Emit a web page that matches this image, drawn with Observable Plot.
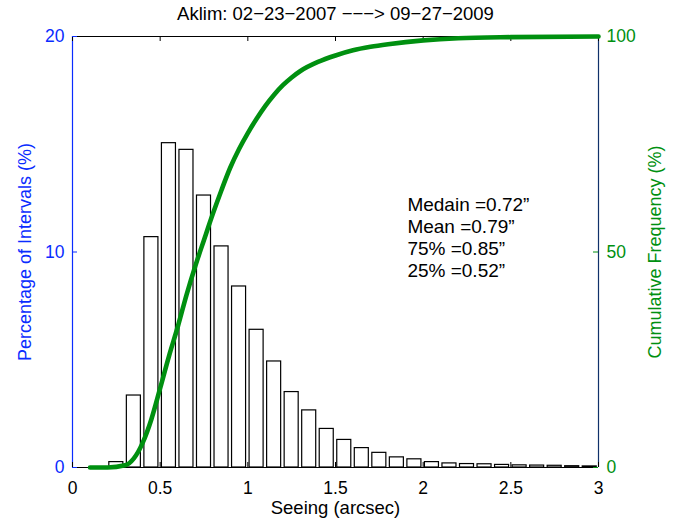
<!DOCTYPE html>
<html>
<head>
<meta charset="utf-8">
<script src="https://cdn.jsdelivr.net/npm/d3@7"></script>
<script src="https://cdn.jsdelivr.net/npm/@observablehq/plot@0.6"></script>
<style>
  html, body { margin: 0; padding: 0; background: white; }
  #chart { position: relative; width: 686px; height: 520px; }
  #chart svg { position: absolute; left: 0; top: 0; }
</style>
</head>
<body>
<div id="chart"></div>
<script>
// ---- data ----
const title = "Aklim: 02\u221223\u22122007 \u2212\u2212\u2212> 09\u221227\u22122009";
const binCenters = [0.25,0.35,0.45,0.55,0.65,0.75,0.85,0.95,1.05,1.15,1.25,1.35,1.45,1.55,1.65,1.75,1.85,1.95,2.05,2.15,2.25,2.35,2.45,2.55,2.65,2.75,2.85,2.95];
const percentOfIntervals = [0.25,3.34,10.69,15.05,14.74,12.62,10.26,8.40,6.39,4.92,3.50,2.65,1.79,1.28,0.90,0.68,0.47,0.38,0.25,0.19,0.16,0.15,0.12,0.10,0.09,0.08,0.06,0.05];
const cumX = [0.1,0.2,0.3,0.35,0.4,0.45,0.5,0.55,0.6,0.65,0.7,0.75,0.8,0.85,0.9,0.95,1.0,1.05,1.1,1.15,1.2,1.25,1.3,1.4,1.5,1.6,1.7,1.8,2.0,2.2,2.5,3.0];
const cumFreq = [0,0,0.5,2.1,5.7,11.2,18.4,25.8,32.6,40.0,46.7,52.8,58.8,64.4,69.6,73.9,77.6,80.9,83.9,86.5,88.7,90.5,92.0,94.1,95.6,96.8,97.6,98.2,99.1,99.6,99.85,100];
const xTicks = [0,0.5,1,1.5,2,2.5,3];
const leftTicks = [0,10,20];
const rightTicks = [0,50,100];
const statLines = ["Medain =0.72\u201D", "Mean =0.79\u201D", "75% =0.85\u201D", "25% =0.52\u201D"];
const xLabel = "Seeing (arcsec)";
const leftLabel = "Percentage of Intervals (%)";
const rightLabel = "Cumulative Frequency (%)";

// ---- layout ----
const W = 686, H = 520;
const mt = 36, mb = 53, ml = 72, mr = 88;
const plotW = W - ml - mr, plotH = H - mt - mb;
const blue = "#0a2cff";
const green = "#009010";
const font = "'Liberation Sans', Arial, Helvetica, sans-serif";
const barWidth = 0.08;

const bars = binCenters.map((c, i) => ({x1: c - barWidth / 2, x2: c + barWidth / 2, y: percentOfIntervals[i]}));
const cum = cumX.map((x, i) => ({x, y: cumFreq[i]}));

const common = {
  width: W, height: H,
  marginTop: mt, marginBottom: mb, marginLeft: ml, marginRight: mr,
  style: {fontFamily: font, fontSize: "17px", background: "transparent", overflow: "visible"}
};

const p1 = Plot.plot({
  ...common,
  x: {domain: [0, 3], axis: null},
  y: {domain: [0, 20], axis: null},
  marks: [
    Plot.rectY(bars, {x1: "x1", x2: "x2", y: "y", fill: "white", stroke: "black", strokeWidth: 1.2}),
    // frame
    Plot.ruleY([0], {stroke: "black", strokeWidth: 1.2}),
    Plot.ruleY([20], {stroke: "black", strokeWidth: 1.2}),
    Plot.ruleX([0], {stroke: blue, strokeWidth: 1.2}),
    Plot.ruleX([3], {stroke: "#10306a", strokeWidth: 1.2}),
    // inward ticks
    Plot.ruleX(xTicks, {insetTop: plotH - 5, stroke: "black"}),
    Plot.ruleX(xTicks, {insetBottom: plotH - 5, stroke: "black"}),
    Plot.ruleY(leftTicks, {insetRight: plotW - 5, stroke: blue}),
    // tick labels
    Plot.axisX({ticks: xTicks, tickSize: 0, tickPadding: 14, tickFormat: d => String(d), label: null, fill: "black", fontSize: 17.5}),
    Plot.axisY({ticks: leftTicks, tickSize: 0, tickPadding: 8, tickFormat: d => String(d), label: null, fill: blue, fontSize: 17.5}),
    // titles
    Plot.text([xLabel], {frameAnchor: "bottom", dy: 41, lineAnchor: "middle", text: d => d, fontSize: 18.5, fill: "black"}),
    Plot.text([leftLabel], {frameAnchor: "left", dx: -47, rotate: -90, textAnchor: "middle", lineAnchor: "middle", text: d => d, fontSize: 18, fill: blue}),
    Plot.text([title], {frameAnchor: "top", dy: -22, lineAnchor: "middle", text: d => d, fontSize: 18.5, fill: "black"}),
    // stats annotation
    Plot.text([statLines.join("\n")], {x: 1.91, y: 12.6, text: d => d, textAnchor: "start", lineAnchor: "top", lineHeight: 1.15, fontSize: 19, fill: "black"})
  ]
});

const p2 = Plot.plot({
  ...common,
  x: {domain: [0, 3], axis: null},
  y: {domain: [0, 100], axis: null},
  marks: [
    Plot.line(cum, {x: "x", y: "y", stroke: green, strokeWidth: 4.6, curve: "monotone-x"}),
    Plot.ruleY(rightTicks, {insetLeft: plotW - 5, stroke: green}),
    Plot.axisY({anchor: "right", ticks: rightTicks, tickSize: 0, tickPadding: 8, tickFormat: d => String(d), label: null, fill: green, fontSize: 17.5}),
    Plot.text([rightLabel], {frameAnchor: "right", dx: 57, rotate: -90, textAnchor: "middle", lineAnchor: "middle", text: d => d, fontSize: 18, fill: green})
  ]
});

const chart = document.getElementById("chart");
chart.appendChild(p1);
chart.appendChild(p2);
</script>
</body>
</html>
